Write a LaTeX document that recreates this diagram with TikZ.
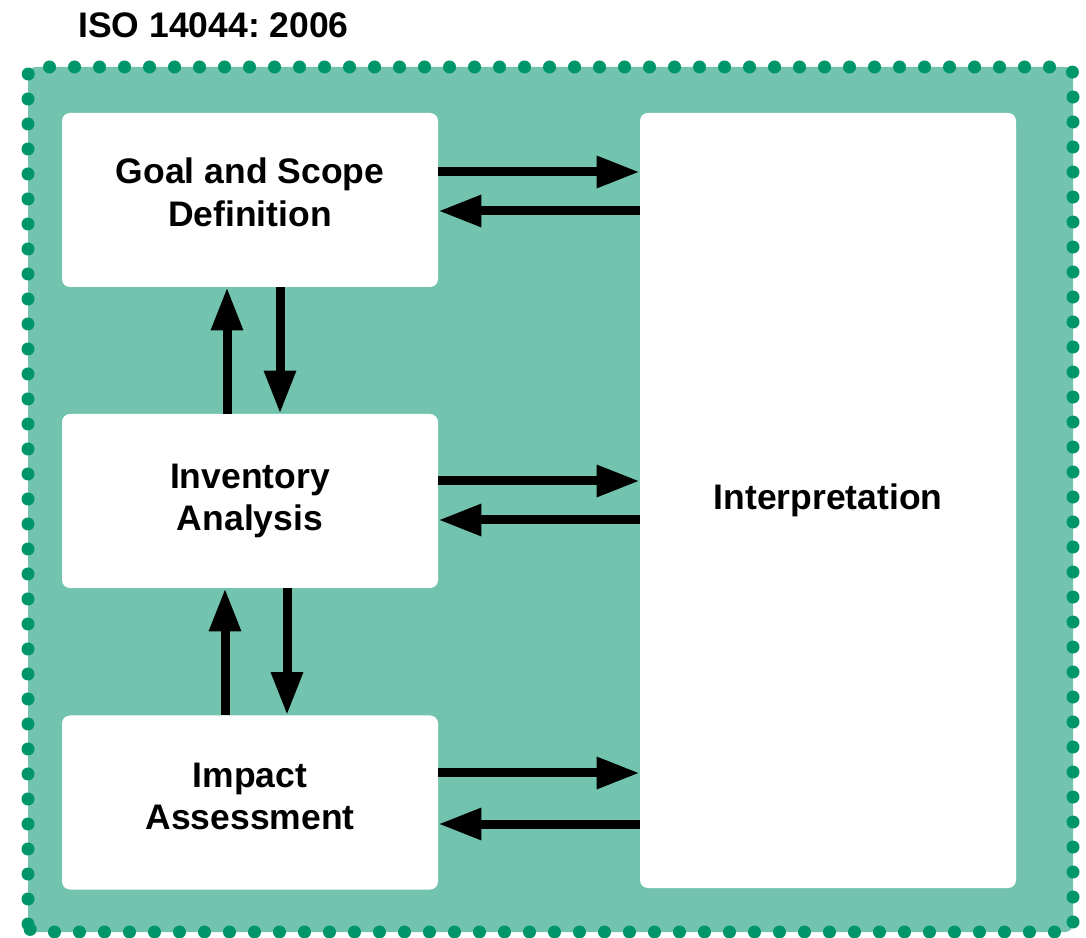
\documentclass[tikz,border=0pt]{standalone}
\usepackage{fontspec}
\setmainfont{Liberation Sans}
\usetikzlibrary{arrows.meta,positioning}
\definecolor{IsoFill}{HTML}{73C4AE}
\definecolor{IsoDots}{HTML}{00966A}
\frenchspacing

\begin{document}
\begin{tikzpicture}[
	stage/.style={fill=white, rounded corners=0.16cm, minimum width=7.52cm, minimum height=3.48cm, inner sep=0pt, align=center, font=\bfseries\fontsize{20.2}{24}\selectfont},
	flow/.style={line width=0.18cm, -{Triangle[length=0.86cm,width=0.6cm]}}
	]
			\pgfmathsetmacro{\FrameLeft}{0.56}
			\pgfmathsetmacro{\FrameRight}{21.46}
			\pgfmathsetmacro{\FrameBottom}{0.1}
			\pgfmathsetmacro{\FrameTop}{17.4}
			\pgfmathsetmacro{\StageX}{5.0}
			\useasboundingbox (0,0) rectangle (21.72,18.74);
			
			% FRAME
			\fill[IsoFill, rounded corners=0.16cm] (\FrameLeft,\FrameBottom) rectangle (\FrameRight,\FrameTop);
			\draw[IsoDots, line width=0.26cm, line cap=round, dash pattern=on 0pt off 0.5cm, rounded corners=0.16cm] (\FrameLeft,\FrameBottom) rectangle (\FrameRight,\FrameTop);
			\node[anchor=west, inner sep=0pt, font=\bfseries\fontsize{20.2}{24}\selectfont] (title) at (1.56,18.24) {ISO 14044: 2006};
			
			% STAGES
			\node[stage] (goal) at (\StageX,14.74) {Goal and Scope\\Definition\\[-0.53cm]};
			\node[stage] (inventory) at (\StageX,8.72) {Inventory\\Analysis};
			\node[stage] (impact) at (\StageX,2.69) {Impact\\Assessment\\[-0.61cm]};
			\node[stage, minimum height=15.5cm] (interp) at (16.56,8.73) {Interpretation};
			
			% TO AND FROM INTERPRETATION
			\draw[flow] ([yshift=0.56cm]goal.east) -- ([yshift=0.56cm]goal.east -| interp.west);
			\draw[flow] ([yshift=-0.22cm]goal.east -| interp.west) -- ([yshift=-0.22cm]goal.east);
			\draw[flow] ([yshift=0.4cm]inventory.east) -- ([yshift=0.4cm]inventory.east -| interp.west);
			\draw[flow] ([yshift=-0.38cm]inventory.east -| interp.west) -- ([yshift=-0.38cm]inventory.east);
			\draw[flow] ([yshift=0.59cm]impact.east) -- ([yshift=0.59cm]impact.east -| interp.west);
			\draw[flow] ([yshift=-0.43cm]impact.east -| interp.west) -- ([yshift=-0.43cm]impact.east);
			
			% BETWEEN STAGES
			\draw[flow] ([xshift=-0.46cm]inventory.north) -- ([xshift=-0.46cm]goal.south);
			\draw[flow] ([xshift=0.6cm]goal.south) -- ([xshift=0.6cm]inventory.north);
			\draw[flow] ([xshift=-0.5cm]impact.north) -- ([xshift=-0.5cm]inventory.south);
			\draw[flow] ([xshift=0.74cm]inventory.south) -- ([xshift=0.74cm]impact.north);
\end{tikzpicture}
\end{document}
